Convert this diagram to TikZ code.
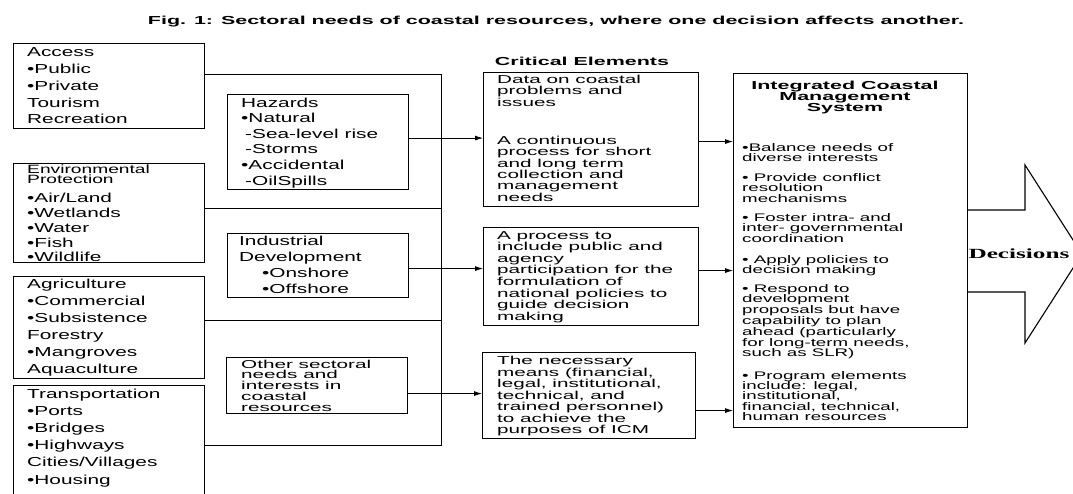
\documentclass[tikz,border=0pt]{standalone}
\usepackage{fontspec}
\setmainfont{Liberation Sans}
\newfontfamily\lfnt[FakeStretch=1.6]{Liberation Sans}
\newfontfamily\cfnt[FakeStretch=1.8]{Liberation Sans}
\newfontfamily\ifnt[FakeStretch=1.7]{Liberation Sans}
\newfontfamily\hfnt[FakeStretch=1.85]{Liberation Sans}
\newfontfamily\dfnt[FakeStretch=1.8]{Liberation Serif}
\usetikzlibrary{arrows.meta}
\tikzset{
  boxx/.style={draw, line width=1.1pt, inner sep=0pt, anchor=north west},
  ltxt/.style={anchor=north west, inner sep=0pt, align=left, font=\lfnt\fontsize{13}{16.8}\selectfont},
  ctxt/.style={anchor=north west, inner sep=0pt, align=left, font=\cfnt\fontsize{11.5}{11.6}\selectfont},
  itxt/.style={anchor=north west, inner sep=0pt, align=left, font=\ifnt\fontsize{11}{10.6}\selectfont},
  head/.style={inner sep=0pt, font=\hfnt\bfseries\fontsize{11.6}{11}\selectfont},
  arr/.style={-{Latex[length=8pt,width=5pt]}, line width=0.8pt},
  link/.style={line width=0.9pt}
}
\begin{document}
\begin{tikzpicture}[x=1pt,y=-1pt]
\useasboundingbox (0,0) rectangle (1073,493);
\clip (0,0) rectangle (1073,493);
% title
\node[head] (title) at (556,22) {Fig. 1: Sectoral needs of coastal resources, where one decision affects another.};
% left column
\node[boxx, minimum width=191pt, minimum height=85pt] (access) at (13,43) {};
\node[ltxt] (accesst) at (27,47.5) {Access\\•Public\\•Private\\Tourism\\Recreation};
\node[boxx, minimum width=191pt, minimum height=99pt] (env) at (13,163) {};
\node[ltxt, font=\lfnt\fontsize{12}{10.6}\selectfont] (envt1) at (27,164.5) {Environmental\\Protection};
\node[ltxt, font=\lfnt\fontsize{13}{14.8}\selectfont] (envt2) at (27,193) {•Air/Land\\•Wetlands\\•Water\\•Fish\\•Wildlife};
\node[boxx, minimum width=191pt, minimum height=102pt] (agri) at (13,276) {};
\node[ltxt, font=\lfnt\fontsize{13}{17}\selectfont] (agrit) at (27,278.5) {Agriculture\\•Commercial\\•Subsistence\\Forestry\\•Mangroves\\Aquaculture};
\node[boxx, minimum width=191pt, minimum height=120pt] (transp) at (13,385) {};
\node[ltxt, font=\lfnt\fontsize{13}{17.2}\selectfont] (transpt) at (27,388.5) {Transportation\\•Ports\\•Bridges\\•Highways\\Cities/Villages\\•Housing};
% bracket
\coordinate (b1) at (441,74);
\coordinate (b2) at (441,208);
\coordinate (b3) at (441,320);
\coordinate (b4) at (441,445);
\draw[link] (access.east |- b1) -- (b1) -- (b4) -- (transp.east |- b4);
\draw[link] (env.east |- b2) -- (b2);
\draw[link] (agri.east |- b3) -- (b3);
% middle boxes
\node[boxx, minimum width=181pt, minimum height=95pt] (haz) at (227,94) {};
\node[ltxt, font=\lfnt\fontsize{13}{15.6}\selectfont] (hazt) at (241,97.5) {Hazards\\•Natural\\\hspace*{4pt}-Sea-level rise\\\hspace*{4pt}-Storms\\•Accidental\\\hspace*{4pt}-OilSpills};
\node[boxx, minimum width=181pt, minimum height=64pt] (ind) at (227,233) {};
\node[ltxt, font=\lfnt\fontsize{13}{16}\selectfont] (indt) at (239,235.5) {Industrial\\Development\\\hspace*{23pt}•Onshore\\\hspace*{23pt}•Offshore};
\node[boxx, minimum width=181pt, minimum height=56pt] (oth) at (226,357) {};
\node[ctxt, font=\cfnt\fontsize{11.5}{10.8}\selectfont] (otht) at (241,359.5) {Other sectoral\\needs and\\interests in\\coastal\\resources};
% critical elements
\node[head] (cetitle) at (582,61) {Critical Elements};
\node[boxx, minimum width=215pt, minimum height=134pt] (crit1) at (483,72) {};
\node[ctxt, font=\cfnt\fontsize{11.5}{11.8}\selectfont] (crit1a) at (497,74.5) {Data on coastal\\problems and\\issues};
\node[ctxt, font=\cfnt\fontsize{11.5}{11.3}\selectfont] (crit1b) at (497,136) {A continuous\\process for short\\and long term\\collection and\\management\\needs};
\node[boxx, minimum width=215pt, minimum height=98pt] (crit2) at (483,227) {};
\node[ctxt] (crit2t) at (497,231) {A process to\\include public and\\agency\\participation for the\\formulation of\\national policies to\\guide decision\\making};
\node[boxx, minimum width=213pt, minimum height=86pt] (crit3) at (482,352) {};
\node[ctxt, font=\cfnt\fontsize{11.5}{11.5}\selectfont] (crit3t) at (497,356) {The necessary\\means (financial,\\legal, institutional,\\technical, and\\trained personnel)\\to achieve the\\purposes of ICM};
% arrows middle -> critical
\draw[arr] ([yshift=4pt]haz.east) -- ([yshift=4pt]haz.east -| crit1.west);
\draw[arr] ([yshift=-3pt]ind.east) -- ([yshift=-3pt]ind.east -| crit2.west);
\draw[arr] ([yshift=-8pt]oth.east) -- ([yshift=-8pt]oth.east -| crit3.west);
% ICM box
\node[boxx, minimum width=234pt, minimum height=354pt] (icm) at (733,73) {};
\node[head, anchor=north, align=center, font=\hfnt\bfseries\fontsize{11.6}{11}\selectfont] (icmh) at (845,81) {Integrated Coastal\\Management\\System};
\node[itxt] (i1) at (742,143) {•Balance needs of\\diverse interests};
\node[itxt] (i2) at (742,173) {• Provide conflict\\resolution\\mechanisms};
\node[itxt] (i3) at (742,213) {• Foster intra- and\\inter- governmental\\coordination};
\node[itxt] (i4) at (742,255) {• Apply policies to\\decision making};
\node[itxt, font=\ifnt\fontsize{11}{10.8}\selectfont] (i5) at (742,284) {• Respond to\\development\\proposals but have\\capability to plan\\ahead (particularly\\for long-term needs,\\such as SLR)};
\node[itxt, font=\ifnt\fontsize{11}{10.3}\selectfont] (i6) at (742,371) {• Program elements\\include: legal,\\institutional,\\financial, technical,\\human resources};
% arrows critical -> ICM
\draw[arr] ([yshift=-2pt]crit1.east) -- ([yshift=-2pt]crit1.east -| icm.west);
\draw[arr] ([yshift=6pt]crit2.east) -- ([yshift=6pt]crit2.east -| icm.west);
\draw[arr] ([yshift=-15pt]crit3.east) -- ([yshift=-15pt]crit3.east -| icm.west);
% big decisions arrow
\coordinate (s1) at (1025,210);
\coordinate (h1) at (1025,165);
\coordinate (tip) at (1082,254);
\coordinate (h2) at (1025,343);
\coordinate (s2) at (1025,292);
\draw[line width=1.1pt, line join=miter] (icm.east |- s1) -- (s1) -- (h1) -- (tip) -- (h2) -- (s2) -- (icm.east |- s2);
\node[inner sep=0pt, font=\dfnt\bfseries\fontsize{14}{14}\selectfont] (dec) at (1019,254) {Decisions};
\end{tikzpicture}
\end{document}
